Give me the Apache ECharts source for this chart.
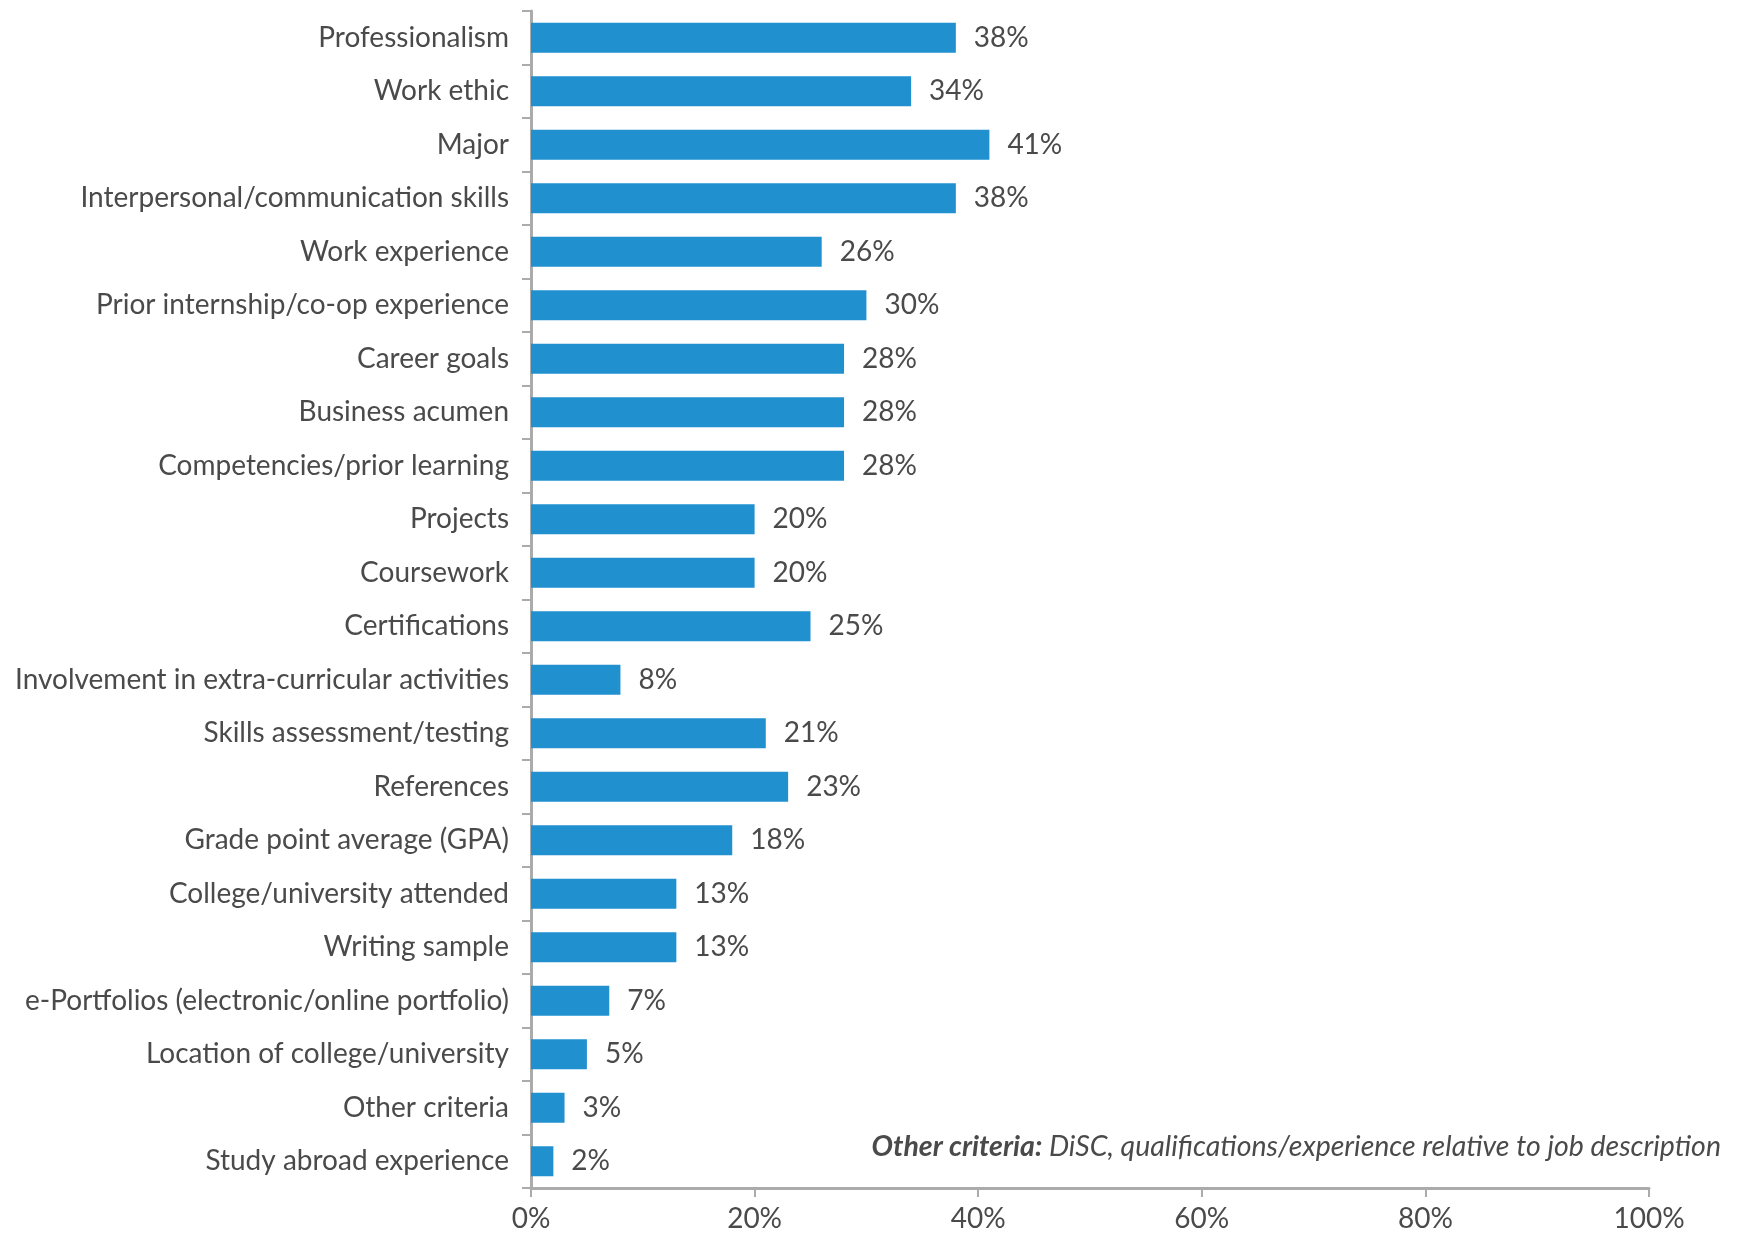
<!DOCTYPE html>
<html>
<head>
<meta charset="utf-8">
<script src="https://cdn.jsdelivr.net/npm/echarts@6/dist/echarts.min.js"></script>
<style>
    html, body { margin: 0; padding: 0; background: #fff; }
    #main { width: 1741px; height: 1233px; }
</style>
</head>
<body>
<div id="main"></div>
<script>
// categories from top to bottom
var categories = [
    'Professionalism', 'Work ethic', 'Major', 'Interpersonal/communication skills',
    'Work experience', 'Prior internship/co-op experience', 'Career goals', 'Business acumen',
    'Competencies/prior learning', 'Projects', 'Coursework', 'Certifications',
    'Involvement in extra-curricular activities', 'Skills assessment/testing', 'References',
    'Grade point average (GPA)', 'College/university attended', 'Writing sample',
    'e-Portfolios (electronic/online portfolio)', 'Location of college/university',
    'Other criteria', 'Study abroad experience'
];
var values = [38, 34, 41, 38, 26, 30, 28, 28, 28, 20, 20, 25, 8, 21, 23, 18, 13, 13, 7, 5, 3, 2];
var xTicks = [0, 20, 40, 60, 80, 100];
var noteBold = 'Other criteria:';
var noteText = ' DiSC, qualifications/experience relative to job description';

var textColor = '#4a4a4a';
var axisGrey = '#ababab';
var fontName = 'Lato';

var myChart = echarts.init(document.getElementById('main'));
var option = {
    animation: false,
    grid: { left: 531, right: 92, top: 11, bottom: 45 },
    xAxis: {
        type: 'value',
        min: 0,
        max: 100,
        interval: 20,
        axisLine: { show: true, lineStyle: { color: axisGrey, width: 3 } },
        axisTick: { show: true, length: 9, lineStyle: { color: axisGrey, width: 2 } },
        splitLine: { show: false },
        axisLabel: {
            color: textColor, fontFamily: fontName, fontSize: 28, margin: 17,
            formatter: function (v) { return xTicks.indexOf(v) >= 0 ? v + '%' : ''; }
        }
    },
    yAxis: {
        type: 'category',
        data: categories,
        inverse: true,
        axisLine: { show: true, lineStyle: { color: axisGrey, width: 3 } },
        axisTick: { show: true, length: 9, lineStyle: { color: axisGrey, width: 2 } },
        axisLabel: { color: textColor, fontFamily: fontName, fontSize: 28, margin: 22 }
    },
    series: [{
        type: 'bar',
        data: values,
        barWidth: 30,
        itemStyle: { color: '#2090cf' },
        label: {
            show: true,
            position: 'right',
            distance: 18,
            color: textColor,
            fontFamily: fontName,
            fontSize: 28,
            formatter: '{c}%'
        }
    }],
    graphic: [{
        type: 'text',
        right: 20,
        top: 1132,
        style: {
            text: '{b|' + noteBold + '}{n|' + noteText + '}',
            rich: {
                b: { fontFamily: fontName, fontSize: 28.5, fontStyle: 'italic', fontWeight: 'bold', fill: textColor },
                n: { fontFamily: fontName, fontSize: 28.5, fontStyle: 'italic', fill: textColor }
            }
        }
    }]
};
myChart.setOption(option);
</script>
</body>
</html>
